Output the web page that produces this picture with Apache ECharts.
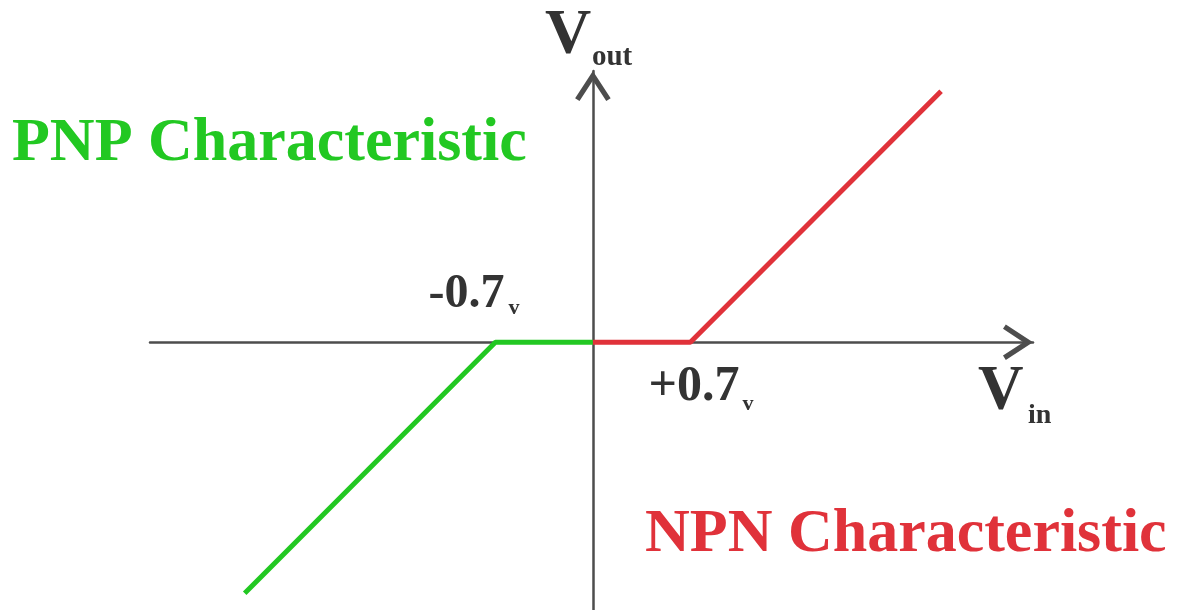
<!DOCTYPE html>
<html><head><meta charset="utf-8">
<script src="https://cdn.jsdelivr.net/npm/echarts@6/dist/echarts.min.js"></script>
<style>html,body{margin:0;padding:0;background:#fff}#c{width:1184px;height:610px}</style>
</head><body><div id="c"></div>
<script>
// Data (volts)
const pnpData = [[-2.5, -1.8], [-0.7, 0], [0, 0]];
const npnData = [[0, 0], [0.7, 0], [2.5, 1.8]];
const thresholds = [-0.7, 0.7];
const thresholdLabels = ['-0.7', '+0.7'];
const thresholdUnit = 'v';
const seriesNames = ['PNP Characteristic', 'NPN Characteristic'];
const xName = ['V', 'in'];
const yName = ['V', 'out'];

const GREEN = '#22c822';
const RED = '#e0323a';
const AX = '#4d4d4d';
const FONT = '"Liberation Serif", "Times New Roman", serif';
const chevron = 'path://M17,0 L34,26 L29.8,28.7 L17,9.2 L4.2,28.7 L0,26 Z';

const chart = echarts.init(document.getElementById('c'), null, {renderer: 'canvas'});
const axisCommon = {
  type: 'value',
  axisLine: {show: true, onZero: true, symbol: ['none', chevron], symbolSize: [36, 30], symbolOffset: [0, -15],
    lineStyle: {color: AX, width: 2.5}},
  axisTick: {show: false}, axisLabel: {show: false}, splitLine: {show: false}
};
chart.setOption({
  animation: false,
  backgroundColor: '#fff',
  grid: {left: 150, right: 151, top: 71, bottom: 0, containLabel: false},
  xAxis: Object.assign({}, axisCommon, {min: -3.18, max: 3.16}),
  yAxis: Object.assign({}, axisCommon, {min: -1.92, max: 1.945}),
  series: [
    {name: seriesNames[0], type: 'line', data: pnpData, symbol: 'none', lineStyle: {color: GREEN, width: 5}, z: 5},
    {name: seriesNames[1], type: 'line', data: npnData, symbol: 'none', lineStyle: {color: RED, width: 5}, z: 5}
  ]
});

function txt(text, x, y, size, color, weight) {
  return {type: 'text', x: x, y: y, z: 100, style: {text: text, font: (weight || 'bold') + ' ' + size + 'px ' + FONT, fill: color, align: 'left', verticalAlign: 'top'}};
}
const pL = chart.convertToPixel({xAxisIndex: 0, yAxisIndex: 0}, [thresholds[0], 0]);
const pR = chart.convertToPixel({xAxisIndex: 0, yAxisIndex: 0}, [thresholds[1], 0]);
const origin = chart.convertToPixel({xAxisIndex: 0, yAxisIndex: 0}, [0, 0]);
const xEnd = chart.convertToPixel({xAxisIndex: 0, yAxisIndex: 0}, [3.16, 0]);
const yEnd = chart.convertToPixel({xAxisIndex: 0, yAxisIndex: 0}, [0, 1.945]);

chart.setOption({
  graphic: [
    txt(seriesNames[0], 12, 113, 62, GREEN),
    txt(seriesNames[1], 645, 504, 62, RED),
    txt(yName[0], origin[0] - 48, yEnd[1] - 67, 64, '#333'),
    txt(yName[1], origin[0] - 1, yEnd[1] - 28, 29, '#333'),
    txt(xName[0], xEnd[0] - 55, origin[1] + 19, 63, '#333'),
    txt(xName[1], xEnd[0] - 5, origin[1] + 60, 28, '#333'),
    txt(thresholdLabels[0], pL[0] - 67, pL[1] - 72, 48, '#333'),
    txt(thresholdUnit, pL[0] + 13, pL[1] - 45, 22, '#333'),
    txt(thresholdLabels[1], pR[0] - 42, pR[1] + 20, 50, '#333'),
    txt(thresholdUnit, pR[0] + 52, pR[1] + 51, 22, '#333')
  ]
});
</script></body></html>
